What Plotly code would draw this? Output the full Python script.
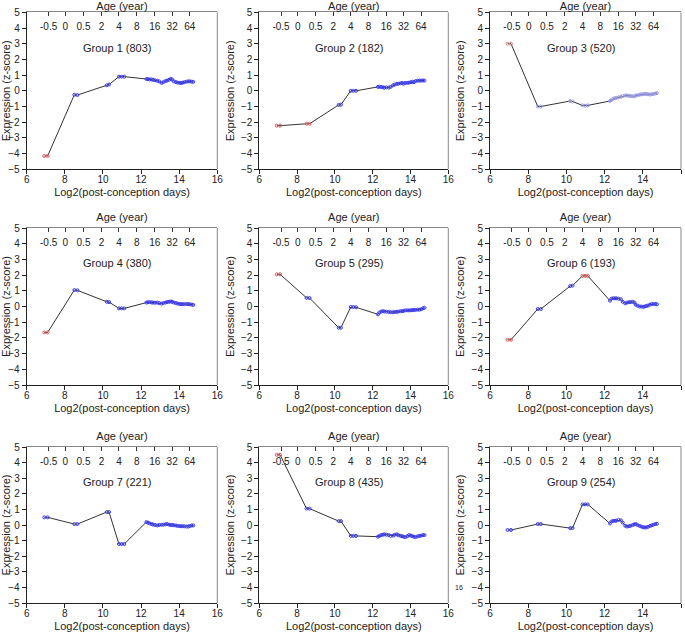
import plotly.graph_objects as go

# ---------------- data ----------------
x_days = [6.92, 7.1, 8.5, 8.66, 10.2, 10.32, 10.84, 10.98, 11.12,
          12.28, 12.36, 12.45, 12.55, 12.62, 12.73, 12.85, 12.95, 13.08, 13.17,
          13.28, 13.36, 13.47, 13.56, 13.63, 13.72, 13.83, 13.92, 14.02, 14.1,
          14.18, 14.27, 14.38, 14.47, 14.56, 14.66, 14.74]

age_tick_pos = [7.15, 8.03, 8.98, 9.92, 10.84, 11.78, 12.72, 13.63, 14.56]
age_tick_labels = ["-0.5", "0", "0.5", "2", "4", "8", "16", "32", "64"]

group_names = ["Group 1 (803)", "Group 2 (182)", "Group 3 (520)",
               "Group 4 (380)", "Group 5 (295)", "Group 6 (193)",
               "Group 7 (221)", "Group 8 (435)", "Group 9 (254)"]

g1 = [-4.15, -4.15, -0.25, -0.27, 0.35, 0.4, 0.9, 0.9, 0.9,
      0.75, 0.74, 0.72, 0.73, 0.7, 0.67, 0.64, 0.6, 0.5, 0.55, 0.62, 0.65, 0.7, 0.76,
      0.72, 0.6, 0.55, 0.52, 0.5, 0.5, 0.52, 0.55, 0.58, 0.6, 0.6, 0.58, 0.57]
g2 = [-2.22, -2.22, -2.1, -2.1, -0.9, -0.88, 0.0, 0.0, 0.0,
      0.25, 0.26, 0.24, 0.22, 0.2, 0.22, 0.2, 0.25, 0.35, 0.4, 0.45, 0.45, 0.48, 0.5,
      0.45, 0.5, 0.5, 0.52, 0.55, 0.58, 0.55, 0.62, 0.65, 0.65, 0.65, 0.66, 0.65]
g3 = [3.0, 3.0, -1.0, -1.0, -0.65, -0.68, -0.93, -0.95, -0.93,
      -0.65, -0.58, -0.5, -0.47, -0.45, -0.42, -0.38, -0.33, -0.3, -0.3, -0.32, -0.33,
      -0.35, -0.35, -0.3, -0.28, -0.25, -0.22, -0.22, -0.2, -0.2, -0.22, -0.24, -0.22,
      -0.2, -0.17, -0.15]
g4 = [-1.65, -1.65, 1.05, 1.03, 0.3, 0.28, -0.12, -0.12, -0.12,
      0.25, 0.27, 0.28, 0.26, 0.25, 0.24, 0.25, 0.22, 0.18, 0.22, 0.25, 0.28, 0.3, 0.32,
      0.3, 0.25, 0.22, 0.18, 0.16, 0.15, 0.15, 0.15, 0.16, 0.15, 0.14, 0.12, 0.1]
g5 = [2.05, 2.05, 0.55, 0.54, -1.35, -1.35, -0.03, -0.03, -0.05,
      -0.5, -0.38, -0.32, -0.3, -0.32, -0.33, -0.35, -0.36, -0.37, -0.35, -0.34, -0.32,
      -0.3, -0.3, -0.28, -0.25, -0.24, -0.25, -0.24, -0.23, -0.22, -0.22, -0.2, -0.2,
      -0.18, -0.12, -0.08]
g6 = [-2.12, -2.12, -0.16, -0.16, 1.3, 1.33, 1.95, 1.95, 1.95,
      0.37, 0.5, 0.52, 0.52, 0.52, 0.5, 0.46, 0.3, 0.2, 0.25, 0.27, 0.28, 0.3, 0.25,
      0.12, 0.05, 0.0, 0.0, -0.02, 0.0, 0.03, 0.06, 0.12, 0.16, 0.15, 0.16, 0.14]
g7 = [0.49, 0.49, 0.06, 0.06, 0.83, 0.83, -1.22, -1.22, -1.22,
      0.19, 0.15, 0.1, 0.06, 0.03, 0.0, -0.03, 0.0, 0.02, 0.02, 0.04, 0.06, 0.02, 0.0,
      0.0, -0.02, -0.03, -0.06, -0.07, -0.08, -0.08, -0.08, -0.1, -0.1, -0.06, -0.03, -0.03]
g8 = [4.5, 4.5, 1.05, 1.05, 0.25, 0.25, -0.7, -0.7, -0.7,
      -0.75, -0.7, -0.65, -0.62, -0.6, -0.62, -0.65, -0.7, -0.68, -0.62, -0.6, -0.65,
      -0.7, -0.72, -0.75, -0.78, -0.72, -0.65, -0.68, -0.72, -0.75, -0.78, -0.72, -0.7,
      -0.68, -0.65, -0.65]
g9 = [-0.32, -0.32, 0.06, 0.06, -0.2, -0.2, 1.32, 1.32, 1.32,
      0.1, 0.22, 0.26, 0.27, 0.28, 0.33, 0.3, 0.15, -0.05, -0.1, -0.08, -0.05, 0.0, 0.05,
      0.06, 0.0, -0.06, -0.1, -0.15, -0.15, -0.16, -0.12, -0.06, -0.02, 0.02, 0.06, 0.08]

groups = [g1, g2, g3, g4, g5, g6, g7, g8, g9]

# ---------------- layout / style ----------------
W, H = 685, 632
col_px = [(26.7, 217.3), (259.3, 448.3), (490.0, 681.0)]
row_px = [(12.3, 169.3), (228.0, 385.0), (447.0, 603.0)]

FONT = "Liberation Sans, Arial, sans-serif"
BLUE = "#3a3af0"
RED = "#e05a5a"
LIGHT_BLUE = "#9a9ae6"
PINK = "#d48a8a"
TXT = "#222222"

fig = go.Figure()
layout = dict(
    template="none",
    width=W, height=H, margin=dict(l=0, r=0, t=0, b=0, pad=0, autoexpand=False),
    paper_bgcolor="white", plot_bgcolor="white", showlegend=False,
    font=dict(family=FONT, size=10, color=TXT),
)
annotations = []
shapes = []

for i, vals in enumerate(groups):
    r, c = divmod(i, 3)
    n = i + 1
    xa = "x" if n == 1 else f"x{n}"
    ya = "y" if n == 1 else f"y{n}"
    xt = f"x{n + 9}"
    xl = f"x{n + 18}"
    x0, x1 = col_px[c]
    y0, y1 = row_px[r]
    xdom = [x0 / W, x1 / W]
    ydom = [1 - y1 / H, 1 - y0 / H]

    if i == 2:
        cols = [PINK if abs(v) >= 1.5 else LIGHT_BLUE for v in vals]
    else:
        cols = [RED if abs(v) >= 1.5 else BLUE for v in vals]

    fig.add_trace(go.Scatter(
        x=x_days, y=vals, xaxis=xa, yaxis=ya, mode="lines+markers",
        line=dict(color="#333333", width=1),
        marker=dict(symbol="circle-open", size=3, color=cols, line=dict(width=1, color=cols)),
        hoverinfo="skip", cliponaxis=False))
    fig.add_trace(go.Scatter(x=[None], y=[None], xaxis=xt, yaxis=ya,
                             mode="markers", hoverinfo="skip"))
    fig.add_trace(go.Scatter(x=[None], y=[None], xaxis=xl, yaxis=ya,
                             mode="markers", hoverinfo="skip"))

    axkey = "xaxis" if n == 1 else f"xaxis{n}"
    aykey = "yaxis" if n == 1 else f"yaxis{n}"
    layout[axkey] = dict(
        domain=xdom, anchor=ya, range=[6, 16], dtick=2, tick0=6, automargin=False,
        showgrid=False, zeroline=False, showline=True, linecolor="#222", linewidth=1,
        ticks="outside", ticklen=4, tickcolor="#222", ticklabelstandoff=-3,
        tickfont=dict(size=10, family=FONT, color=TXT),
        title=dict(text="Log2(post-conception days)", standoff=4,
                   font=dict(size=11, family=FONT, color=TXT)),
    )
    # top axis: line, inward ticks and title
    layout[f"xaxis{n + 9}"] = dict(
        overlaying=xa, side="top", anchor=ya, range=[6, 16], automargin=False,
        tickmode="array", tickvals=age_tick_pos, showticklabels=False,
        showgrid=False, zeroline=False, showline=True, linecolor="#888", linewidth=1,
        ticks="inside", ticklen=4, tickcolor="#333",
        title=dict(text="Age (year)", standoff=3,
                   font=dict(size=11, family=FONT, color=TXT)),
    )
    # top axis tick labels, drawn just inside the frame
    layout[f"xaxis{n + 18}"] = dict(
        overlaying=xa, side="top", anchor="free", position=1 - (y0 + 19.5) / H,
        range=[6, 16], automargin=False,
        tickmode="array", tickvals=age_tick_pos, ticktext=age_tick_labels,
        showgrid=False, zeroline=False, showline=False, ticks="",
        tickfont=dict(size=10, family=FONT, color=TXT),
    )
    layout[aykey] = dict(
        domain=ydom, anchor=xa, range=[-5, 5], dtick=1, tick0=-5, automargin=False,
        showgrid=False, zeroline=False, showline=True, linecolor="#222", linewidth=1,
        ticks="outside", ticklen=4, tickcolor="#222",
        tickfont=dict(size=10, family=FONT, color=TXT),
        title=dict(text="Expression (z-score)", standoff=4,
                   font=dict(size=11, family=FONT, color=TXT)),
    )
    shapes.append(dict(type="line", xref=f"{xa} domain", yref=f"{ya} domain",
                       x0=1, x1=1, y0=0, y1=1, line=dict(color="#888", width=1)))
    annotations.append(dict(text=group_names[i], xref=xa, yref=ya, x=10.75, y=2.75,
                            showarrow=False, font=dict(size=11, family=FONT, color=TXT)))

annotations.append(dict(text="16", xref="paper", yref="paper", x=465 / W, y=1 - 593 / H,
                        showarrow=False, font=dict(size=7, family=FONT, color=TXT)))
layout["annotations"] = annotations
layout["shapes"] = shapes
fig.update_layout(**layout)
fig.write_html("out.html", config={"displayModeBar": False},
               post_script="document.body.style.margin='0';document.body.style.padding='0';")
